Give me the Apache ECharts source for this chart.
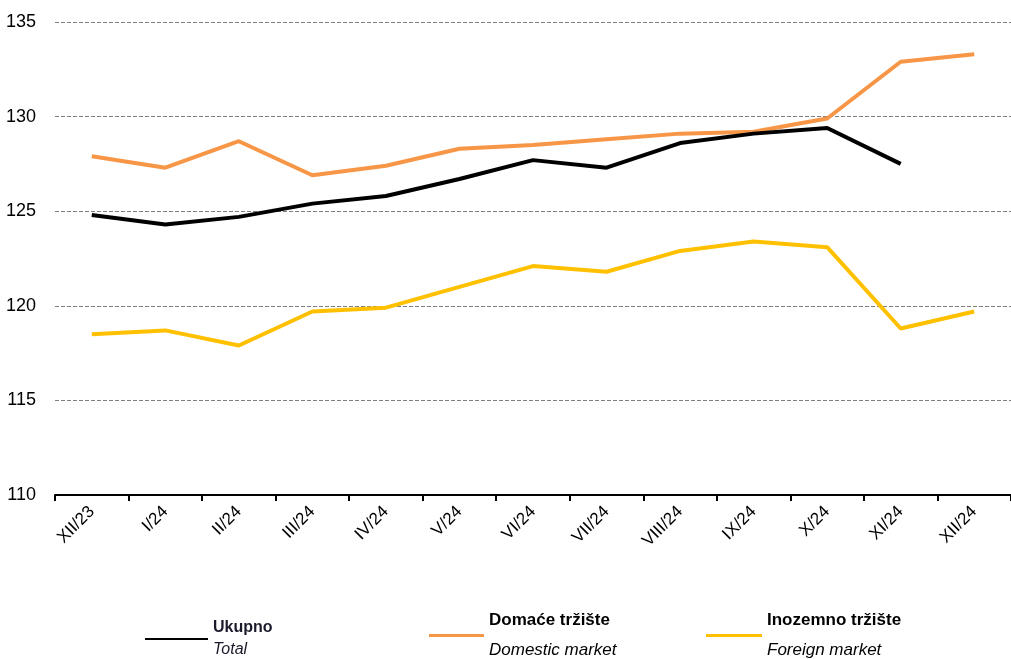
<!DOCTYPE html>
<html>
<head>
<meta charset="utf-8">
<script src="https://cdn.jsdelivr.net/npm/echarts@6/dist/echarts.min.js"></script>
<style>
  html, body { margin: 0; padding: 0; background: #fff; }
  #chart { width: 1011px; height: 659px; }
</style>
</head>
<body>
<div id="chart"></div>
<script>
// categories (months)
var months = ['XII/23', 'I/24', 'II/24', 'III/24', 'IV/24', 'V/24', 'VI/24', 'VII/24', 'VIII/24', 'IX/24', 'X/24', 'XI/24', 'XII/24']

// series values
var ukupno = [124.8, 124.3, 124.7, 125.4, 125.8, 126.7, 127.7, 127.3, 128.6, 129.1, 129.4, 127.5, null]
var domace = [127.9, 127.3, 128.7, 126.9, 127.4, 128.3, 128.5, 128.8, 129.1, 129.2, 129.9, 132.9, 133.3]
var inozemno = [118.5, 118.7, 117.9, 119.7, 119.9, 121.0, 122.1, 121.8, 122.9, 123.4, 123.1, 118.8, 119.7]

var font = "'Liberation Sans', Arial, sans-serif"

var chart = echarts.init(document.getElementById('chart'))

var bigRich = {
  a: { fontFamily: font, fontWeight: 'bold', fontSize: 17, color: '#000', lineHeight: 30 },
  b: { fontFamily: font, fontStyle: 'italic', fontSize: 17, color: '#000', lineHeight: 30 }
}
var smallRich = {
  a: { fontFamily: font, fontWeight: 'bold', fontSize: 16, color: '#1a1a2a', lineHeight: 22 },
  b: { fontFamily: font, fontStyle: 'italic', fontSize: 16, color: '#1a1a2a', lineHeight: 22 }
}

chart.setOption({
  animation: false,
  grid: { left: 55, right: -6, top: 22, bottom: 164 },
  xAxis: {
    type: 'category',
    data: months,
    boundaryGap: true,
    axisLine: { lineStyle: { color: '#000', width: 2 } },
    axisTick: { show: true, length: 6, lineStyle: { color: '#000', width: 2 } },
    axisLabel: {
      rotate: 45,
      margin: 14,
      fontFamily: font,
      fontSize: 17,
      color: '#000',
      interval: 0
    }
  },
  yAxis: {
    type: 'value',
    min: 110,
    max: 135,
    interval: 5,
    axisLine: { show: false },
    axisTick: { show: false },
    axisLabel: { fontFamily: font, fontSize: 18, color: '#000', margin: 19 },
    splitLine: { lineStyle: { color: '#7f7f7f', type: [4, 2], width: 1 } }
  },
  legend: [
    {
      data: ['Ukupno'], left: 145, top: 620, padding: 0, icon: 'rect', itemWidth: 63, itemHeight: 2, itemGap: 4,
      selectedMode: false,
      formatter: '{a|Ukupno}\n{b|Total}',
      textStyle: { rich: smallRich }
    },
    {
      data: ['Domaće tržište'], left: 429, top: 612, padding: 0, icon: 'rect', itemWidth: 55, itemHeight: 3, itemGap: 3,
      selectedMode: false,
      formatter: '{a|Domaće tržište}\n{b|Domestic market}',
      textStyle: { rich: bigRich }
    },
    {
      data: ['Inozemno tržište'], left: 706, top: 612, padding: 0, icon: 'rect', itemWidth: 56, itemHeight: 3, itemGap: 3,
      selectedMode: false,
      formatter: '{a|Inozemno tržište}\n{b|Foreign market}',
      textStyle: { rich: bigRich }
    }
  ],
  series: [
    {
      name: 'Domaće tržište', type: 'line', data: domace,
      symbol: 'none', lineStyle: { color: '#F79646', width: 4 }, itemStyle: { color: '#F79646' }
    },
    {
      name: 'Inozemno tržište', type: 'line', data: inozemno,
      symbol: 'none', lineStyle: { color: '#FFC000', width: 4 }, itemStyle: { color: '#FFC000' }
    },
    {
      name: 'Ukupno', type: 'line', data: ukupno,
      symbol: 'none', lineStyle: { color: '#000', width: 4 }, itemStyle: { color: '#000' }
    }
  ]
})
</script>
</body>
</html>
